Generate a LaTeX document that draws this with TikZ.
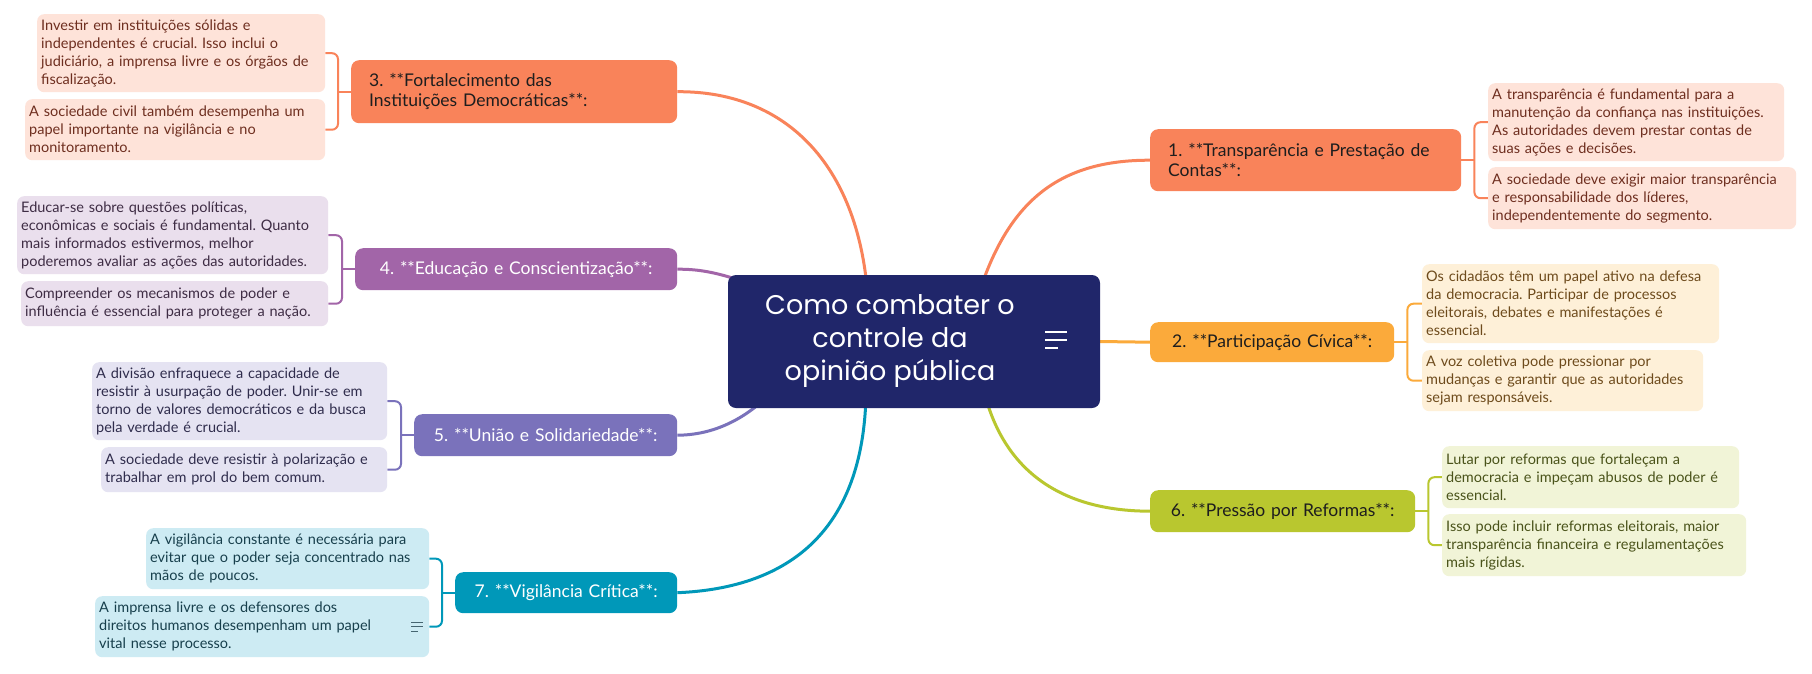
\documentclass[tikz,border=0pt]{standalone}
\usepackage{fontspec}
\setmainfont{Lato}
\newfontfamily\titlefont{Poppins}
\usetikzlibrary{backgrounds}
\frenchspacing

\definecolor{navy}{HTML}{20266A}
\definecolor{coral}{HTML}{F9835A}
\definecolor{amber}{HTML}{FBAA3B}
\definecolor{olive}{HTML}{B9C72F}
\definecolor{plum}{HTML}{A265A8}
\definecolor{violet}{HTML}{7A72BB}
\definecolor{teal}{HTML}{0098B9}
\definecolor{coralL}{HTML}{FEE3D9}
\definecolor{amberL}{HTML}{FEF0D8}
\definecolor{oliveL}{HTML}{F1F4D7}
\definecolor{plumL}{HTML}{EADFED}
\definecolor{violetL}{HTML}{E5E3F2}
\definecolor{tealL}{HTML}{CDEBF3}
\definecolor{coralT}{HTML}{6E2E1F}
\definecolor{amberT}{HTML}{6E4B1C}
\definecolor{oliveT}{HTML}{4A531A}
\definecolor{plumT}{HTML}{3E2C44}
\definecolor{violetT}{HTML}{2F2C4C}
\definecolor{tealT}{HTML}{173F4C}
\definecolor{ink}{HTML}{1E1E1E}

\begin{document}
\begin{tikzpicture}[x=1pt,y=-1pt,
    leaf/.style={anchor=north west,rounded corners=7pt,align=left,inner xsep=4pt,inner ysep=2pt,
      font=\fontsize{14.5}{18}\selectfont},
    topic/.style={anchor=north west,rounded corners=8pt,align=center,inner xsep=8pt,inner ysep=2pt,
      font=\fontsize{17.5}{20}\selectfont},
    branch/.style={line width=3pt},
    brk/.style={line width=2pt,rounded corners=6pt}]

  \useasboundingbox (0,0) rectangle (1812,673);

  % central topic
  \node[fill=navy,rounded corners=8pt,minimum width=372pt,minimum height=133pt,inner sep=0pt]
    (root) at (914,341.5) {};
  \node[text=white,align=center,font=\titlefont\fontsize{27}{33}\selectfont]
    (title) at ([xshift=-24pt]root.center) {Como combater o\\controle da\\opinião pública};
  \draw[white,line width=2pt] ([shift={(-55,-9.5)}]root.east) -- ++(22,0)
    ([shift={(-55,-1.5)}]root.east) -- ++(22,0)
    ([shift={(-55,6.5)}]root.east) -- ++(13,0);

  % right side
  \draw (1150,129) node[topic,fill=coral,text=ink,align=left,inner xsep=18pt,text width=275pt,minimum height=62pt]
    (t1) {1. **Transparência e Prestação de\\Contas**:};
  \draw (1488,83) node[leaf,fill=coralL,text=coralT,text width=288pt,minimum height=78pt]
    (c1a) {A transparência é fundamental para a\\manutenção da confiança nas instituições.\\As autoridades devem prestar contas de\\suas ações e decisões.};
  \draw (1488,167) node[leaf,fill=coralL,text=coralT,text width=300pt,minimum height=62pt]
    (c1b) {A sociedade deve exigir maior transparência\\e responsabilidade dos líderes,\\independentemente do segmento.};

  \draw (1150,322) node[topic,fill=amber,text=ink,text width=228pt,minimum height=40pt]
    (t2) {2. **Participação Cívica**:};
  \draw (1422,264) node[leaf,fill=amberL,text=amberT,text width=289pt,minimum height=79pt]
    (c2a) {Os cidadãos têm um papel ativo na defesa\\da democracia. Participar de processos\\eleitorais, debates e manifestações é\\essencial.};
  \draw (1422,350) node[leaf,fill=amberL,text=amberT,text width=273pt,minimum height=61pt]
    (c2b) {A voz coletiva pode pressionar por\\mudanças e garantir que as autoridades\\sejam responsáveis.};

  \draw (1150,490) node[topic,fill=olive,text=ink,text width=249pt,minimum height=42pt]
    (t6) {6. **Pressão por Reformas**:};
  \draw (1442,446) node[leaf,fill=oliveL,text=oliveT,text width=289pt,minimum height=62pt]
    (c6a) {Lutar por reformas que fortaleçam a\\democracia e impeçam abusos de poder é\\essencial.};
  \draw (1442,514) node[leaf,fill=oliveL,text=oliveT,text width=296pt,minimum height=62pt]
    (c6b) {Isso pode incluir reformas eleitorais, maior\\transparência financeira e regulamentações\\mais rígidas.};

  % left side
  \draw (351,60) node[topic,fill=coral,text=ink,align=left,inner xsep=18pt,text width=290pt,minimum height=63pt]
    (t3) {3. **Fortalecimento das\\Instituições Democráticas**:};
  \draw (37,14) node[leaf,fill=coralL,text=coralT,text width=280pt,minimum height=78pt]
    (c3a) {Investir em instituições sólidas e\\independentes é crucial. Isso inclui o\\judiciário, a imprensa livre e os órgãos de\\fiscalização.};
  \draw (25,99) node[leaf,fill=coralL,text=coralT,text width=292pt,minimum height=61pt]
    (c3b) {A sociedade civil também desempenha um\\papel importante na vigilância e no\\monitoramento.};

  \draw (355,248) node[topic,fill=plum,text=white,text width=306pt,minimum height=42pt]
    (t4) {4. **Educação e Conscientização**:};
  \draw (17,196) node[leaf,fill=plumL,text=plumT,text width=303pt,minimum height=78pt]
    (c4a) {Educar-se sobre questões políticas,\\econômicas e sociais é fundamental. Quanto\\mais informados estivermos, melhor\\poderemos avaliar as ações das autoridades.};
  \draw (21,281) node[leaf,fill=plumL,text=plumT,text width=299pt,minimum height=45pt]
    (c4b) {Compreender os mecanismos de poder e\\influência é essencial para proteger a nação.};

  \draw (414,414) node[topic,fill=violet,text=white,text width=247pt,minimum height=42pt]
    (t5) {5. **União e Solidariedade**:};
  \draw (92,362) node[leaf,fill=violetL,text=violetT,text width=287pt,minimum height=78pt]
    (c5a) {A divisão enfraquece a capacidade de\\resistir à usurpação de poder. Unir-se em\\torno de valores democráticos e da busca\\pela verdade é crucial.};
  \draw (101,447) node[leaf,fill=violetL,text=violetT,text width=278pt,minimum height=45pt]
    (c5b) {A sociedade deve resistir à polarização e\\trabalhar em prol do bem comum.};

  \draw (455,572) node[topic,fill=teal,text=white,text width=206pt,minimum height=41pt]
    (t7) {7. **Vigilância Crítica**:};
  \draw (146,528) node[leaf,fill=tealL,text=tealT,text width=275pt,minimum height=61pt]
    (c7a) {A vigilância constante é necessária para\\evitar que o poder seja concentrado nas\\mãos de poucos.};
  \draw (95,596) node[leaf,fill=tealL,text=tealT,text width=326pt,minimum height=61pt]
    (c7b) {A imprensa livre e os defensores dos\\direitos humanos desempenham um papel\\vital nesse processo.};
  \draw[tealT!80,line width=1.2pt] ([shift={(-18,-4.5)}]c7b.east) -- ++(12,0)
    ([shift={(-18,0)}]c7b.east) -- ++(12,0)
    ([shift={(-18,4.5)}]c7b.east) -- ++(7,0);

  \begin{scope}[on background layer]
    \fill[white] (0,0) rectangle (1812,673);
    % branches from the central topic
    \draw[branch,coral] (868,300) .. controls (860,170) and (790,91) .. (t3.east);
    \draw[branch,coral] (980,290) .. controls (1010,200) and (1060,160) .. (t1.west);
    \draw[branch,amber] (root.east) -- (t2.west);
    \draw[branch,olive] (985,395) .. controls (1005,470) and (1060,511) .. (t6.west);
    \draw[branch,plum] (t4.east) .. controls (700,269) and (720,273) .. (750,284);
    \draw[branch,violet] (t5.east) .. controls (715,435) and (745,418) .. (768,396);
    \draw[branch,teal] (t7.east) .. controls (790,588) and (863,530) .. (866,395);
    % brackets to the details
    \draw[brk,coral] (t1.east) -- ++(13,0) coordinate (j1);
    \draw[brk,coral] (c1a.west) -| (j1) |- (c1b.west);
    \draw[brk,amber] (t2.east) -- ++(13,0) coordinate (j2);
    \draw[brk,amber] (c2a.west) -| (j2) |- (c2b.west);
    \draw[brk,olive] (t6.east) -- ++(13,0) coordinate (j6);
    \draw[brk,olive] (c6a.west) -| (j6) |- (c6b.west);
    \draw[brk,coral] (t3.west) -- ++(-13,0) coordinate (j3);
    \draw[brk,coral] (c3a.east) -| (j3) |- (c3b.east);
    \draw[brk,plum] (t4.west) -- ++(-13,0) coordinate (j4);
    \draw[brk,plum] (c4a.east) -| (j4) |- (c4b.east);
    \draw[brk,violet] (t5.west) -- ++(-13,0) coordinate (j5);
    \draw[brk,violet] (c5a.east) -| (j5) |- (c5b.east);
    \draw[brk,teal] (t7.west) -- ++(-13,0) coordinate (j7);
    \draw[brk,teal] (c7a.east) -| (j7) |- (c7b.east);
  \end{scope}
\end{tikzpicture}
\end{document}
